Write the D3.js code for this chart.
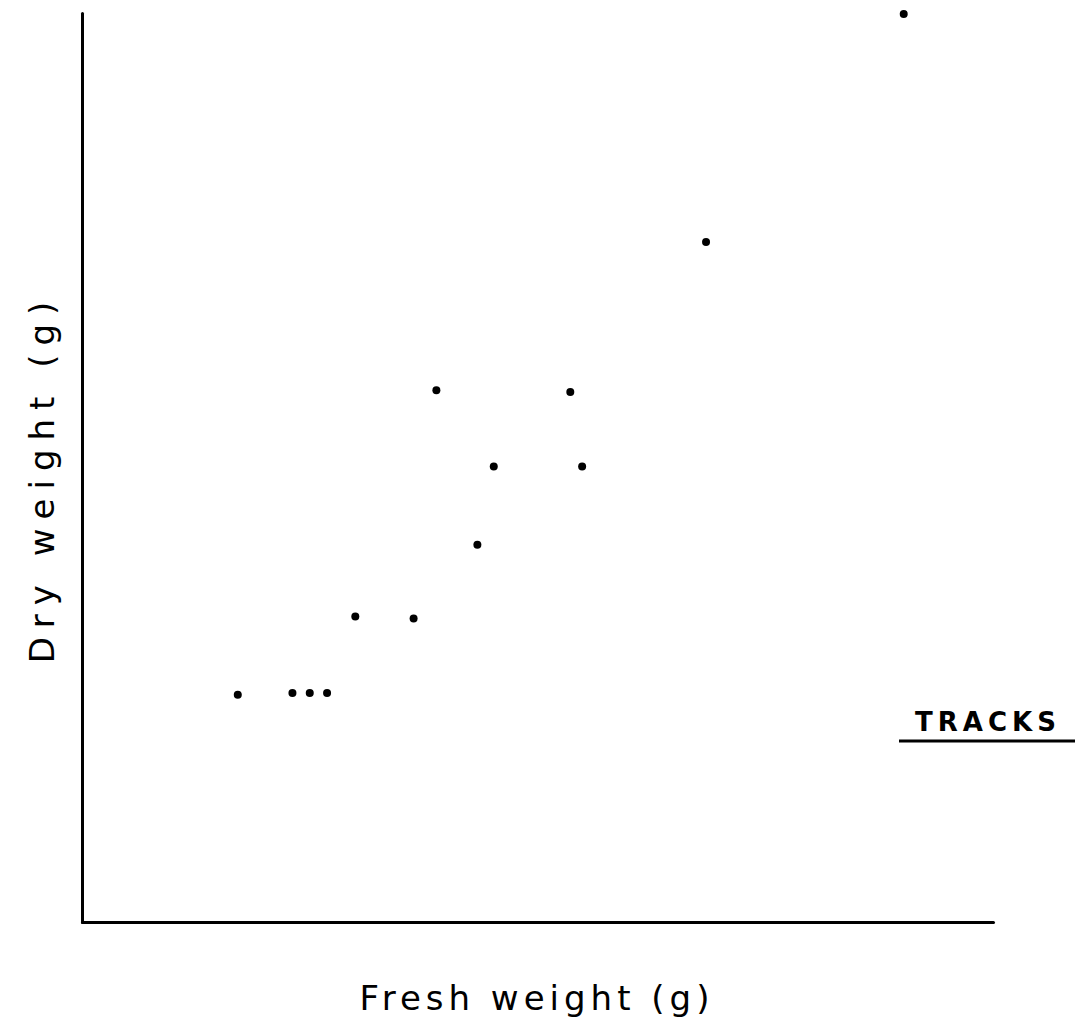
<!DOCTYPE html>
<html>
<head>
<meta charset="utf-8">
<script src="https://d3js.org/d3.v7.min.js"></script>
<style>
  body { margin: 0; background: #fff; }
  text { font-family: 'DejaVu Sans', sans-serif; fill: #000; }
</style>
</head>
<body>
<div id="chart"></div>
<script>
// fresh weight (x) and dry weight (y), arbitrary units
var freshWeight = [17.1, 23.1, 25.0, 26.9, 30.0, 36.4, 38.9, 43.4, 45.2, 53.6, 54.9, 68.5, 90.2]
var dryWeight = [25.0, 25.2, 25.2, 25.2, 33.6, 33.4, 58.5, 41.5, 50.1, 58.3, 50.1, 74.8, 99.9]
var xLabel = 'Fresh weight (g)'
var yLabel = 'Dry weight (g)'
var title = 'TRACKS'

var width = 1082
var height = 1026

var svg = d3.select('#chart')
  .append('svg')
  .attr('width', width)
  .attr('height', height)

var x = d3.scaleLinear()
  .domain([0, 100])
  .range([82, 993])
var y = d3.scaleLinear()
  .domain([0, 100])
  .range([922, 13])

svg.append('g')
  .attr('transform', 'translate(0,' + y(0) + ')')
  .call(d3.axisBottom(x).tickValues([]).tickSizeOuter(0))
svg.append('g')
  .attr('transform', 'translate(' + x(0) + ',0)')
  .call(d3.axisLeft(y).tickValues([]).tickSizeOuter(0))
svg.selectAll('.domain')
  .attr('stroke', '#000')
  .attr('stroke-width', 3)
  .attr('stroke-linecap', 'round')

var data = freshWeight.map(function (d, i) {
  return { fresh: d, dry: dryWeight[i] }
})

svg.selectAll('circle')
  .data(data)
  .enter()
  .append('circle')
  .attr('cx', function (d) { return x(d.fresh) })
  .attr('cy', function (d) { return y(d.dry) })
  .attr('r', 4)
  .attr('fill', '#000')

svg.append('text')
  .attr('x', 537)
  .attr('y', 1010)
  .attr('text-anchor', 'middle')
  .style('font-size', '34px')
  .style('letter-spacing', '5px')
  .text(xLabel)

svg.append('text')
  .attr('transform', 'translate(54,478) rotate(-90)')
  .attr('text-anchor', 'middle')
  .style('font-size', '34px')
  .style('letter-spacing', '9px')
  .text(yLabel)

svg.append('text')
  .attr('x', 988)
  .attr('y', 731)
  .attr('text-anchor', 'middle')
  .style('font-size', '26px')
  .style('font-weight', 'bold')
  .style('letter-spacing', '5px')
  .text(title)

svg.append('line')
  .attr('x1', 899)
  .attr('x2', 1075)
  .attr('y1', 741)
  .attr('y2', 741)
  .attr('stroke', '#000')
  .attr('stroke-width', 3)
</script>
</body>
</html>
